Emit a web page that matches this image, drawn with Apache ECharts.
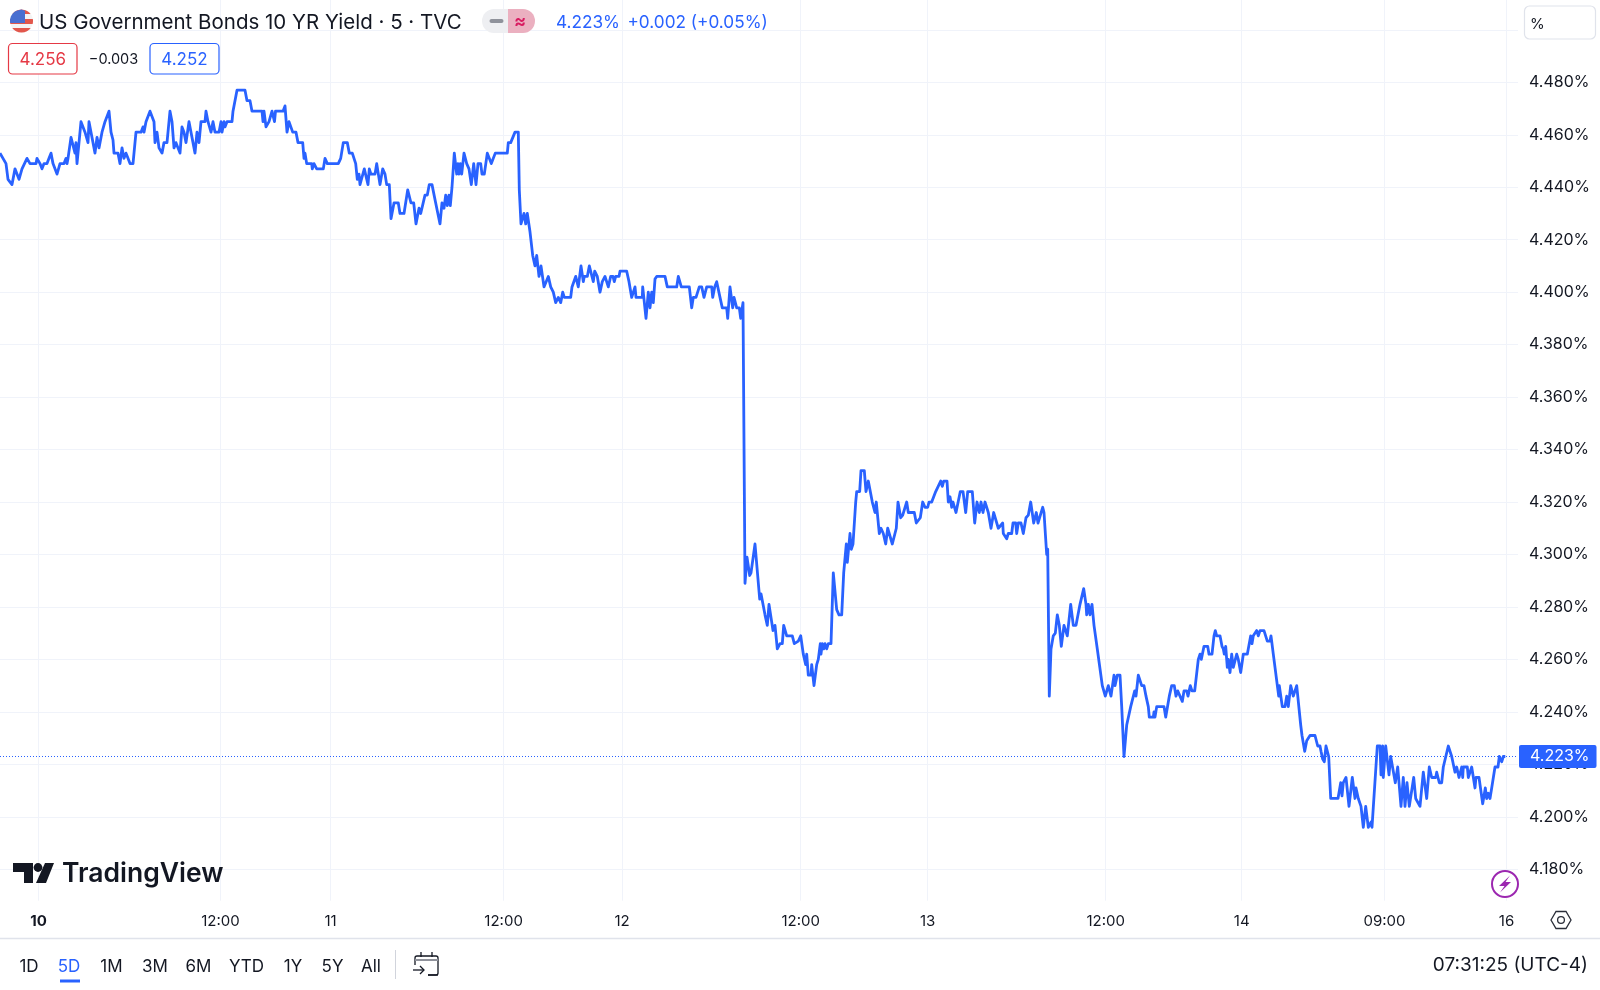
<!DOCTYPE html>
<html><head><meta charset="utf-8">
<style>html,body{margin:0;padding:0;background:#fff}#c{width:1600px;height:990px}</style>
<script src="https://cdn.jsdelivr.net/npm/echarts@6/dist/echarts.min.js"></script>
</head><body><div id="c"></div>
<script>
// [bar position, yield %], one array per session
const session10a=[[0,4.453],[3,4.451],[5,4.451],[6,4.449],[8,4.443],[10,4.443],[12,4.441],[15,4.447],[17,4.447],[19,4.443],[20,4.443],[22,4.447],[24,4.447],[27,4.451],[28,4.451],[30,4.449],[36,4.449],[37,4.451],[40,4.449],[42,4.447],[44,4.449],[47,4.449],[49,4.451],[51,4.453],[53,4.449],[57,4.445],[59,4.445],[60,4.449],[64,4.449],[66,4.451],[67,4.449],[68,4.451],[71,4.459],[73,4.459],[75,4.453],[76,4.457],[77,4.449],[79,4.449],[81,4.465],[83,4.465],[85,4.461],[88,4.457],[89,4.465],[91,4.461],[93,4.461],[95,4.453],[97,4.459],[99,4.455],[102,4.461],[105,4.465],[107,4.465],[109,4.469],[111,4.461],[113,4.458],[114,4.453],[118,4.453],[120,4.449],[122,4.455],[124,4.451],[126,4.453],[128,4.451],[130,4.449],[133,4.449],[136,4.461],[141,4.461],[143,4.463],[144,4.461],[146,4.465],[148,4.465],[150,4.469],[152,4.469],[154,4.465],[155,4.457],[157,4.461],[159,4.455],[162,4.453],[164,4.457],[167,4.457],[169,4.465],[170,4.469],[172,4.465],[174,4.455],[176,4.457],[178,4.457],[180,4.453],[182,4.463],[184,4.461],[186,4.457],[189,4.465],[191,4.461],[193,4.457],[195,4.453],[197,4.461],[199,4.457],[201,4.465],[205,4.465],[206,4.469],[208,4.465],[211,4.461],[213,4.465],[215,4.461],[219,4.461],[221,4.465],[222,4.461],[224,4.465],[225,4.463],[227,4.465],[232,4.465],[233,4.469],[235,4.469],[237,4.477],[245,4.477],[247,4.473],[250,4.473],[252,4.469],[262,4.469],[263,4.465],[264,4.469],[266,4.463],[269,4.465]];
const session10b=[[272,4.469],[274.5,4.465],[275.5,4.469],[283,4.469],[285,4.471],[287,4.461],[289,4.465],[291,4.465],[292.7,4.461],[296,4.461],[298,4.457],[302.7,4.457],[304,4.451],[305,4.453],[306.7,4.449],[311.7,4.449],[312.3,4.447],[314,4.449],[316.7,4.447],[323.3,4.447],[325,4.451],[327.3,4.449],[338.3,4.449],[340.7,4.451],[343.3,4.457],[347.3,4.457],[349.3,4.453],[352.3,4.453],[355.7,4.449],[357.3,4.443],[359,4.445],[360,4.441],[364.3,4.447],[368,4.441],[369.3,4.447],[371,4.445],[375,4.445],[376.7,4.449],[378.3,4.449],[380,4.441],[382.7,4.447],[385,4.445],[386.7,4.441],[389.3,4.441],[391,4.428],[394,4.434],[398.3,4.434],[400,4.43],[404,4.43],[407.7,4.439],[411,4.434],[413.7,4.434],[416,4.426],[419,4.432],[420.7,4.43],[425,4.437],[427.3,4.437],[429.3,4.441],[432,4.441],[435.7,4.434],[440,4.426],[442,4.434],[444,4.432],[445.7,4.437],[447.3,4.433],[449,4.437],[450.3,4.433],[452,4.44],[454.3,4.453],[456.7,4.445],[458,4.449],[459,4.445],[460.3,4.449],[461.7,4.445],[464,4.453],[466.7,4.449],[469,4.447],[471.3,4.441],[473.7,4.449],[476,4.441],[478,4.449],[480.7,4.449],[482,4.445],[484.3,4.445],[487.3,4.453],[489.3,4.453],[491.3,4.449],[493.3,4.449],[495.3,4.453],[507.3,4.453],[508.3,4.457],[510.7,4.457],[515,4.461],[518.3,4.461]];
const session11=[[519.3,4.439],[521,4.426],[522.7,4.426],[524,4.43],[525.7,4.426],[527.3,4.43],[530,4.423],[532.7,4.414],[535,4.41],[536.7,4.414],[539,4.406],[541,4.41],[544,4.402],[546,4.402],[548.3,4.406],[550.7,4.402],[553.3,4.4],[555.7,4.396],[558.3,4.398],[560.7,4.396],[562.7,4.4],[564.3,4.398],[570.7,4.398],[572,4.402],[575.7,4.406],[576.7,4.406],[578.3,4.402],[581,4.41],[583.3,4.404],[584.3,4.406],[587.3,4.406],[589.3,4.41],[591,4.41],[593.3,4.404],[594.7,4.408],[597.3,4.406],[600,4.4],[602.3,4.404],[605,4.406],[608.3,4.402],[610.7,4.406],[613,4.406],[614.3,4.404],[615.7,4.406],[619,4.406],[620,4.408],[626.7,4.408],[629,4.404],[631.7,4.398],[635,4.402],[636,4.398],[642.3,4.398],[642.7,4.402],[646,4.39],[648.3,4.4],[650,4.394],[651.7,4.4],[653.3,4.396],[655,4.405],[656.7,4.406],[665,4.406],[667.3,4.402],[676.7,4.402],[678.3,4.406],[680,4.406],[681.3,4.402],[689.3,4.402],[691.7,4.394],[693.3,4.398],[696,4.398],[699.3,4.402],[701.7,4.402],[704,4.398],[706.7,4.402],[711.7,4.402],[712.7,4.398],[714.7,4.402],[716.7,4.404],[720,4.398],[722.3,4.394],[726.7,4.394],[727.7,4.39],[730,4.402],[732.7,4.394],[734,4.398],[736.7,4.394],[739.3,4.394],[740.7,4.39],[743,4.396]];
const session12a=[[745,4.289],[746,4.289],[747,4.299],[749.7,4.292],[751,4.293],[755,4.304],[757,4.304],[759.7,4.283],[761,4.285],[762,4.283],[765,4.277],[767.3,4.273],[769,4.281],[770.3,4.281],[773,4.271],[775,4.273],[777.3,4.264],[780,4.266],[782.3,4.266],[783.7,4.273],[785,4.273],[786.7,4.269],[792.3,4.269],[794.3,4.266],[798.3,4.267],[800.7,4.269],[803.3,4.262],[805.7,4.258],[806.7,4.262],[808.3,4.254],[811,4.254],[811.7,4.258],[814,4.25],[816.7,4.258],[818.3,4.26],[820.3,4.266],[821,4.262],[822.3,4.266],[823.7,4.264],[825,4.266],[826.7,4.264],[828.3,4.266],[831,4.266],[833.3,4.293],[836.7,4.279],[839,4.277],[841.7,4.277],[843.7,4.293],[846.3,4.304],[847.3,4.297],[850,4.308],[851.3,4.302],[853,4.304],[855.7,4.32],[856.7,4.324],[859.7,4.324],[861,4.332],[864.3,4.332],[866,4.324],[868.3,4.328],[869.7,4.328],[872.3,4.32],[875,4.316],[876.3,4.32],[878,4.32],[879.3,4.308],[881,4.31],[883.3,4.308],[885.7,4.304],[887.7,4.31],[889,4.31],[892.3,4.304],[894,4.304],[896.3,4.31],[898,4.32],[900.7,4.314],[902.7,4.315],[906.7,4.32],[908.3,4.316],[914.3,4.316],[916.3,4.312],[918.3,4.312],[920.3,4.314],[922.7,4.32],[925,4.318],[927.7,4.318],[929,4.32],[931.7,4.32]];
const session12b=[[935.7,4.324],[937.7,4.324],[940.7,4.328],[942.3,4.326],[943.7,4.328],[947,4.328],[948.3,4.32],[950,4.322],[951.7,4.318],[953,4.32],[956,4.316],[957.7,4.316],[960.3,4.324],[963,4.324],[965.7,4.316],[967.7,4.324],[972.3,4.324],[974.7,4.312],[977,4.32],[979.3,4.316],[981,4.32],[983,4.316],[985,4.32],[988.3,4.316],[991,4.31],[993.7,4.316],[995.3,4.316],[998.3,4.31],[1002.7,4.312],[1003.3,4.308],[1006.7,4.306],[1008.3,4.308],[1011.7,4.308],[1013,4.312],[1015.7,4.312],[1016.7,4.308],[1018.3,4.312],[1021,4.312],[1023.3,4.308],[1026,4.314],[1028.3,4.315],[1030.7,4.32],[1033.7,4.312],[1036.3,4.316],[1038,4.312],[1040,4.312],[1042.7,4.318],[1044,4.316],[1046.7,4.3],[1047.7,4.302]];
const session13=[[1049.3,4.246],[1051,4.264],[1053.3,4.269],[1055.3,4.27],[1057.3,4.277],[1059.3,4.273],[1061.3,4.265],[1064,4.273],[1065.7,4.273],[1067.3,4.269],[1070.7,4.281],[1072,4.281],[1073.3,4.273],[1076,4.273],[1080,4.281],[1082,4.281],[1083.7,4.287],[1086,4.281],[1086.7,4.277],[1088.3,4.281],[1090,4.277],[1092,4.281],[1094,4.273],[1097.3,4.264],[1102.3,4.25],[1104,4.25],[1105.3,4.246],[1106.7,4.246],[1108.3,4.25],[1111,4.246],[1114,4.254],[1115,4.25],[1117.3,4.254],[1120,4.254],[1121.7,4.242],[1124,4.223],[1126.7,4.235],[1128.7,4.235],[1130.7,4.242],[1132.7,4.242],[1134.7,4.248],[1136,4.246],[1138.3,4.254],[1140,4.254],[1141.7,4.25],[1144,4.25],[1146,4.246],[1148.3,4.242],[1149.3,4.238],[1153.3,4.238],[1154,4.24],[1155,4.238],[1156.7,4.242],[1164,4.242],[1165.7,4.238],[1167,4.238],[1169.3,4.246],[1171.7,4.25],[1174.3,4.25],[1176,4.246],[1177.7,4.248],[1180,4.246],[1182.3,4.244],[1184,4.248],[1186.7,4.248],[1188,4.246],[1190.3,4.25],[1192,4.248],[1194.7,4.248],[1198.3,4.26],[1200,4.262],[1201.3,4.26],[1204,4.265],[1207.7,4.265],[1209,4.262],[1212,4.262],[1214,4.269],[1215.3,4.271],[1216.7,4.269],[1220,4.269],[1222,4.265],[1223.3,4.264],[1224.3,4.262],[1225.7,4.265],[1227.3,4.257],[1228.3,4.26],[1230,4.255],[1231.7,4.262],[1233.3,4.257],[1236.7,4.262],[1238.3,4.26],[1240.7,4.255]];
const session14a=[[1243.3,4.262],[1247.3,4.262],[1250.7,4.269],[1252,4.266],[1253.3,4.269],[1256.7,4.271],[1258.3,4.269],[1260,4.271],[1264,4.271],[1267.3,4.267],[1270,4.267],[1271,4.269],[1273.3,4.262],[1275.3,4.262],[1278.7,4.246],[1279.3,4.25],[1282.3,4.242],[1285,4.242],[1286.7,4.246],[1288.3,4.242],[1290.7,4.25],[1293.3,4.246],[1296.7,4.25],[1298.3,4.25],[1300.7,4.235],[1302,4.231],[1304.7,4.225],[1306.7,4.229],[1308.3,4.229],[1310,4.231],[1315,4.231],[1317.7,4.227],[1320,4.227],[1321,4.225],[1322.7,4.222],[1324.3,4.221],[1326,4.227],[1328.7,4.223],[1330.7,4.207],[1338,4.207],[1340.7,4.213],[1342,4.208],[1343.3,4.213],[1346,4.215],[1349,4.204],[1352.3,4.215],[1355,4.207],[1356,4.211],[1358.3,4.207],[1361,4.204],[1363.3,4.196],[1365.7,4.204],[1368.3,4.196],[1371,4.198],[1372,4.196],[1374,4.196],[1377.3,4.227],[1380,4.227],[1381,4.216],[1382.7,4.227],[1383.3,4.215]];
const session14b=[[1385.7,4.227],[1389,4.216],[1390.7,4.223],[1392.7,4.223],[1395.3,4.213],[1397.7,4.219],[1401,4.204],[1403.3,4.215],[1405,4.204],[1407,4.213],[1409.3,4.204],[1413.7,4.215],[1415.7,4.207],[1417.7,4.207],[1420,4.204],[1423.3,4.217],[1426.7,4.207],[1429.3,4.219],[1431.7,4.215],[1435.7,4.215],[1436.7,4.217],[1439.3,4.213],[1441.7,4.213],[1443.3,4.219],[1445.3,4.219],[1448.3,4.227],[1451.7,4.223],[1455,4.217],[1456.7,4.219],[1459,4.215],[1461.7,4.219],[1462.7,4.215],[1463.3,4.219],[1467.3,4.219],[1468.3,4.215],[1471.7,4.219],[1475,4.211],[1476,4.215],[1479,4.215],[1482.7,4.205],[1485.3,4.211],[1486.7,4.207],[1488.3,4.209],[1490,4.207],[1491.7,4.211],[1495,4.219],[1498,4.219],[1499.3,4.223],[1501.7,4.221],[1503.3,4.223],[1505.3,4.223]];
const lastYield=4.223;
const yTicks=[4.18,4.20,4.22,4.24,4.26,4.28,4.30,4.32,4.34,4.36,4.38,4.40,4.42,4.44,4.46,4.48,4.50];
const xTickBars=[38.5,220.5,330.6,503.6,622,800.7,927.7,1105.7,1241.7,1384.5,1506.5];
const xTickLabels=['10','12:00','11','12:00','12','12:00','13','12:00','14','09:00','16'];
const rangeTabs=['1D','5D','1M','3M','6M','YTD','1Y','5Y','All'];
const rangeTabX=[29,69,111.5,155,198.5,246.5,293,332.5,371];

const BLUE='#2962ff',INK='#131722',FONT='Inter, "Noto Sans", sans-serif';
const series=[...session10a,...session10b,...session11,...session12a,...session12b,...session13,...session14a,...session14b];
function txt(x,y,text,size,fill,align,weight){return {type:'text',x,y,z:20,style:{text,fontSize:size,fontFamily:FONT,fontWeight:weight||400,fill,align:align||'left',verticalAlign:'middle'}};}
function rrect(x,y,w,h,r,fill,stroke,lw){return {type:'rect',z:15,shape:{x,y,width:w,height:h,r},style:{fill:fill||'none',stroke:stroke||'none',lineWidth:lw||1}};}
function chord(cx,cy,r,y0,y1,x1){ // region of a disc between two heights, cut at x1
  const pts=[];const s=12;
  for(let i=0;i<=s;i++){const y=y0+(y1-y0)*i/s,d=Math.sqrt(Math.max(0,r*r-(y-cy)*(y-cy)));pts.push([Math.min(cx+d,x1),y]);}
  for(let i=s;i>=0;i--){const y=y0+(y1-y0)*i/s,d=Math.sqrt(Math.max(0,r*r-(y-cy)*(y-cy)));pts.push([Math.min(cx-d,x1),y]);}
  return {type:'polygon',z:16,shape:{points:pts},style:{}};
}
function poly(points,style,z){return {type:'polygon',z:z||16,shape:{points},style};}
const flag=[
 {type:'circle',z:15,shape:{cx:21.5,cy:21,r:11.5},style:{fill:'#f4f4f4'}},
 Object.assign(chord(21.5,21,11.5,19,24,99),{style:{fill:'#e2574c'}}),
 Object.assign(chord(21.5,21,11.5,28,32.5,99),{style:{fill:'#e2574c'}}),
 Object.assign(chord(21.5,21,11.5,9.5,14,99),{style:{fill:'#e2574c'}}),
 Object.assign(chord(21.5,21,11.5,9.5,23,25),{style:{fill:'#4a6fd0'}})
];
const header=[
 ...flag,
 txt(39,23,'US Government Bonds 10 YR Yield · 5 · TVC',20.5,INK),
 {type:'rect',z:15,shape:{x:482,y:9,width:27,height:24,r:[12,0,0,12]},style:{fill:'#eeeff2'}},
 {type:'rect',z:15,shape:{x:508,y:9,width:27,height:24,r:[0,12,12,0]},style:{fill:'#ebb0c0'}},
 rrect(489.5,19,14,4,2,'#8f929b'),
 txt(520,21.5,'≈',18,'#d81b60','center',700),
 txt(556,23,'4.223%',17.2,BLUE),
 txt(627.5,23,'+0.002 (+0.05%)',17.2,BLUE),
 rrect(8.5,43.5,68.5,30.5,4,'#fff','#e53945',1.2),
 txt(42.8,60,'4.256',17,'#e53945','center'),
 txt(113.5,60,'−0.003',14.5,INK,'center'),
 rrect(150,43.5,69,30.5,4,'#fff',BLUE,1.2),
 txt(184.5,60,'4.252',17,BLUE,'center'),
 rrect(1524.5,6,71,33,5,'#fff','#e0e3eb',1.2),
 txt(1530,24,'%',15,INK)
];
const logo=[
 poly([[13,863],[33,863],[33,883],[24,883],[24,872],[13,872]],{fill:'#131722'}),
 {type:'circle',z:16,shape:{cx:38,cy:867.5,r:4.4},style:{fill:'#131722'}},
 poly([[45,863],[54,863],[46,883],[36,883]],{fill:'#131722'}),
 txt(62,874,'TradingView',26.5,'#131722','left',600)
];
const bolt=[
 {type:'circle',z:16,shape:{cx:1505,cy:884,r:13},style:{fill:'#fff',stroke:'#9c27b0',lineWidth:2}},
 poly([[1510,875.5],[1499,886],[1504.5,886],[1500,892.5],[1511,882],[1505.5,882]],{fill:'#9c27b0'},17)
];
const gear=[
 poly([[1551,920],[1556,911.5],[1566,911.5],[1571,920],[1566,928.5],[1556,928.5]],{fill:'none',stroke:'#2a2e39',lineWidth:1.3}),
 {type:'circle',z:16,shape:{cx:1561,cy:920,r:3.4},style:{fill:'none',stroke:'#2a2e39',lineWidth:1.3}}
];
const footer=[
 {type:'line',z:10,shape:{x1:0,y1:938.5,x2:1600,y2:938.5},style:{stroke:'#e0e3eb',lineWidth:1.5}},
 ...rangeTabs.map((t,i)=>txt(rangeTabX[i],966.5,t,17,i===1?BLUE:INK,'center')),
 rrect(60,979.5,20,3,0,BLUE),
 {type:'line',z:10,shape:{x1:395.5,y1:950,x2:395.5,y2:979},style:{stroke:'#d1d4dc',lineWidth:1}},
 rrect(415,956,23,19,2,'#fff','#131722',1.3),
 {type:'line',z:17,shape:{x1:415,y1:960,x2:438,y2:960},style:{stroke:'#8f929b',lineWidth:2}},
 {type:'line',z:17,shape:{x1:421,y1:952,x2:421,y2:957},style:{stroke:'#131722',lineWidth:1.3}},
 {type:'line',z:17,shape:{x1:432,y1:952,x2:432,y2:957},style:{stroke:'#131722',lineWidth:1.3}},
 {type:'rect',z:17,shape:{x:412,y:965,width:16,height:12},style:{fill:'#fff'}},
 {type:'line',z:18,shape:{x1:413,y1:970,x2:424,y2:970},style:{stroke:'#131722',lineWidth:1.3}},
 {type:'polyline',z:18,shape:{points:[[420,966],[424,970],[420,974]]},style:{stroke:'#131722',lineWidth:1.3,fill:'none'}},
 {type:'line',z:18,shape:{x1:428,y1:975,x2:438,y2:975},style:{stroke:'#131722',lineWidth:1.3}},
 txt(1588,965.5,'07:31:25 (UTC-4)',19,INK,'right')
];
const chart=echarts.init(document.getElementById('c'),null,{width:1600,height:990});
chart.setOption({
 animation:false,backgroundColor:'#fff',
 textStyle:{fontFamily:FONT},
 grid:{left:0,right:82,top:0,height:900.7,containLabel:false},
 xAxis:{type:'value',min:0,max:1518,
  axisLine:{show:false},
  axisTick:{show:false,customValues:xTickBars},
  splitLine:{show:true,lineStyle:{color:'#f0f3fa',width:1}},
  axisLabel:{customValues:xTickBars,margin:13,fontSize:15,color:INK,fontFamily:FONT,hideOverlap:false,
   formatter:v=>{const t=xTickLabels[xTickBars.indexOf(v)];return t==='10'?'{b|'+t+'}':t;},
   rich:{b:{fontWeight:700,fontSize:15,color:INK,fontFamily:FONT}}}},
 yAxis:{type:'value',position:'right',min:4.16803,max:4.51137,scale:true,
  axisLine:{show:false},
  axisTick:{show:false,customValues:yTicks},
  splitLine:{show:true,lineStyle:{color:'#f0f3fa',width:1.2}},
  axisLabel:{customValues:yTicks.slice(0,-1),margin:11,fontSize:16,color:INK,fontFamily:FONT,align:'left',padding:[3,0,0,0],
   formatter:v=>v.toFixed(3)+'%'}},
 series:[{type:'line',data:series,showSymbol:false,symbol:'none',smooth:false,
  lineStyle:{color:BLUE,width:2.8,join:'round'},itemStyle:{color:BLUE},silent:true,
  markLine:{symbol:'none',silent:true,animation:false,z:12,precision:3,
   lineStyle:{color:BLUE,type:[1,2],width:1,opacity:1},
   data:[{yAxis:lastYield}],
   label:{show:true,position:'end',distance:1,formatter:()=>lastYield.toFixed(3)+'%',
    backgroundColor:BLUE,color:'#fff',fontSize:16,fontFamily:FONT,padding:[4,7,3,11],borderRadius:2,align:'left'}}}],
 graphic:[...header,...logo,...bolt,...gear,...footer]
});
</script></body></html>
